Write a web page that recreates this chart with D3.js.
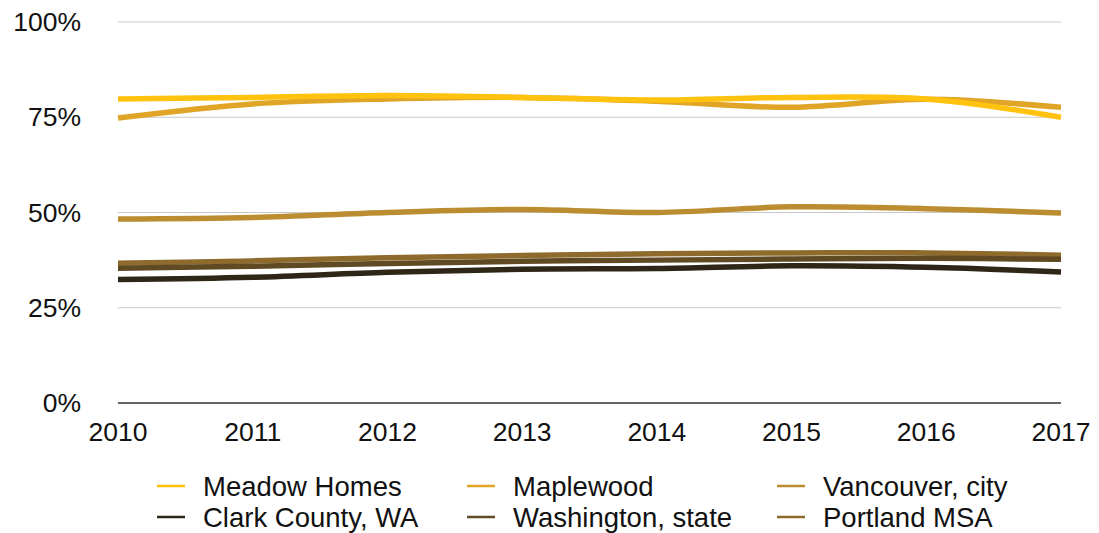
<!DOCTYPE html>
<html>
<head>
<meta charset="utf-8">
<script src="https://cdn.jsdelivr.net/npm/d3@7"></script>
<style>
  body { margin: 0; background: #fff; }
  svg text { font-family: "Liberation Sans", Arial, sans-serif; fill: #111; }
</style>
</head>
<body>
<div id="chart"></div>
<script>
// data
const years = [2010, 2011, 2012, 2013, 2014, 2015, 2016, 2017];
const yTicks = [0, 0.25, 0.5, 0.75, 1];
const seriesNames = ["Meadow Homes", "Maplewood", "Vancouver, city", "Clark County, WA", "Washington, state", "Portland MSA"];
const seriesColors = ["#ffc20e", "#e0a526", "#bc8c30", "#2e2616", "#5f4a23", "#8e6b2d"];
const meadowHomes = [0.798, 0.802, 0.807, 0.802, 0.795, 0.802, 0.798, 0.750];
const maplewood = [0.748, 0.785, 0.798, 0.802, 0.792, 0.776, 0.797, 0.776];
const vancouver = [0.483, 0.487, 0.500, 0.508, 0.500, 0.515, 0.510, 0.499];
const clarkCounty = [0.324, 0.330, 0.343, 0.351, 0.353, 0.360, 0.356, 0.344];
const washington = [0.354, 0.359, 0.366, 0.372, 0.375, 0.378, 0.380, 0.377];
const portland = [0.367, 0.373, 0.381, 0.387, 0.392, 0.394, 0.394, 0.388];
const values = [meadowHomes, maplewood, vancouver, clarkCounty, washington, portland];

const width = 1099, height = 533;
const margin = {left: 118, right: 38, top: 22, bottom: 130};

const svg = d3.select("#chart").append("svg")
  .attr("width", width).attr("height", height);

const x = d3.scaleLinear()
  .domain([2010, 2017])
  .range([margin.left, width - margin.right]);
const y = d3.scaleLinear()
  .domain([0, 1])
  .range([height - margin.bottom, margin.top]);

// grid lines
svg.append("g")
  .selectAll("line")
  .data(yTicks)
  .join("line")
  .attr("x1", margin.left).attr("x2", width - margin.right)
  .attr("y1", d => y(d)).attr("y2", d => y(d))
  .attr("stroke", d => d === 0 ? "#333" : "#c8c8c8")
  .attr("stroke-width", d => d === 0 ? 1.3 : 1);

// y labels
svg.append("g")
  .selectAll("text")
  .data(yTicks)
  .join("text")
  .attr("x", 81)
  .attr("y", d => y(d) + 9)
  .attr("text-anchor", "end")
  .style("font-size", "26.5px")
  .text(d => d3.format(".0%")(d));

// x labels
svg.append("g")
  .selectAll("text")
  .data(years)
  .join("text")
  .attr("x", d => x(d))
  .attr("y", 441)
  .attr("text-anchor", "middle")
  .style("font-size", "26.5px")
  .text(d => d);

const line = d3.line()
  .x((d, i) => x(years[i]))
  .y(d => y(d))
  .curve(d3.curveCatmullRom.alpha(0.5));

// draw last series first so Meadow Homes sits on top
const order = d3.range(values.length).reverse();
svg.append("g")
  .selectAll("path")
  .data(order)
  .join("path")
  .attr("d", i => line(values[i]))
  .attr("fill", "none")
  .attr("stroke", i => seriesColors[i])
  .attr("stroke-width", 5.5);

// legend
const legend = svg.append("g")
  .selectAll("g")
  .data(seriesNames)
  .join("g")
  .attr("transform", (d, i) => `translate(${157 + (i % 3) * 310},${486 + Math.floor(i / 3) * 31})`);
legend.append("line")
  .attr("x1", 0).attr("x2", 28)
  .attr("stroke", (d, i) => seriesColors[i])
  .attr("stroke-width", 2.5);
legend.append("text")
  .attr("x", 46)
  .attr("y", 10)
  .style("font-size", "27.5px")
  .text(d => d);
</script>
</body>
</html>
